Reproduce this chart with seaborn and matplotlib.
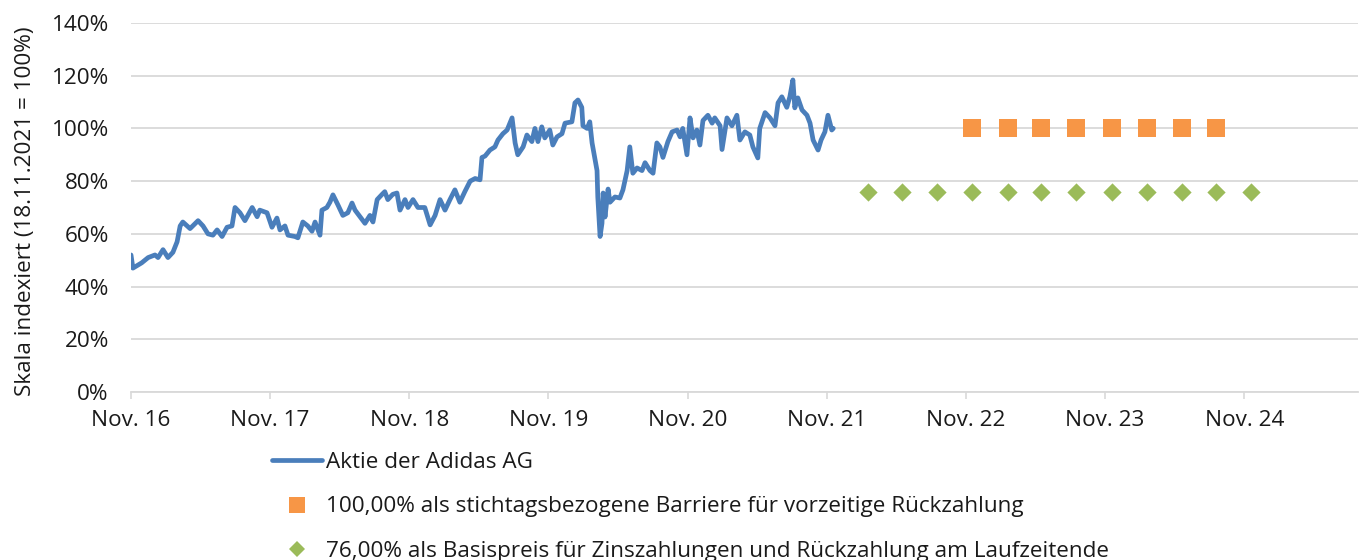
import matplotlib
matplotlib.use("Agg")
import matplotlib.pyplot as plt
from matplotlib.lines import Line2D
import seaborn as sns
import pandas as pd

# ---- data -------------------------------------------------------------
stock_dates = [
    "2016-11-01", "2016-11-06", "2016-11-29", "2016-12-16", "2017-01-03", "2017-01-11",
    "2017-01-24", "2017-02-06", "2017-02-19", "2017-03-02", "2017-03-10", "2017-03-17",
    "2017-04-05", "2017-04-26", "2017-05-09", "2017-05-22", "2017-06-04", "2017-06-15",
    "2017-06-28", "2017-07-11", "2017-07-24", "2017-08-01", "2017-08-14", "2017-08-27",
    "2017-09-15", "2017-09-28", "2017-10-05", "2017-10-24", "2017-11-06", "2017-11-19",
    "2017-11-27", "2017-12-10", "2017-12-18", "2018-01-05", "2018-01-13", "2018-01-26",
    "2018-02-08", "2018-02-19", "2018-02-27", "2018-03-12", "2018-03-17", "2018-03-30",
    "2018-04-07", "2018-04-15", "2018-04-28", "2018-05-11", "2018-05-24", "2018-06-04",
    "2018-06-12", "2018-06-25", "2018-07-08", "2018-07-21", "2018-07-29", "2018-08-09",
    "2018-08-22", "2018-08-29", "2018-09-06", "2018-09-19", "2018-09-30", "2018-10-08",
    "2018-10-21", "2018-10-29", "2018-11-11", "2018-11-24", "2018-12-12", "2018-12-26",
    "2019-01-08", "2019-01-21", "2019-02-03", "2019-02-16", "2019-03-01", "2019-03-14",
    "2019-03-27", "2019-04-10", "2019-04-23", "2019-05-06", "2019-05-11", "2019-05-19",
    "2019-06-01", "2019-06-14", "2019-06-22", "2019-07-05", "2019-07-16", "2019-07-29",
    "2019-08-06", "2019-08-13", "2019-08-27", "2019-09-06", "2019-09-19", "2019-09-27",
    "2019-10-05", "2019-10-15", "2019-10-23", "2019-11-05", "2019-11-13", "2019-11-24",
    "2019-12-07", "2019-12-15", "2020-01-02", "2020-01-10", "2020-01-18", "2020-01-28",
    "2020-01-31", "2020-02-11", "2020-02-18", "2020-02-24", "2020-03-03", "2020-03-08",
    "2020-03-10", "2020-03-16", "2020-03-21", "2020-03-24", "2020-03-29", "2020-04-06",
    "2020-04-11", "2020-04-24", "2020-05-07", "2020-05-15", "2020-05-26", "2020-06-02",
    "2020-06-10", "2020-06-21", "2020-07-04", "2020-07-12", "2020-07-25", "2020-08-02",
    "2020-08-12", "2020-08-20", "2020-08-28", "2020-09-10", "2020-09-21", "2020-10-04",
    "2020-10-12", "2020-10-19", "2020-10-30", "2020-11-07", "2020-11-15", "2020-11-25",
    "2020-12-03", "2020-12-11", "2020-12-24", "2021-01-04", "2021-01-11", "2021-01-25",
    "2021-01-30", "2021-02-12", "2021-02-25", "2021-03-10", "2021-03-18", "2021-03-31",
    "2021-04-13", "2021-04-21", "2021-05-04", "2021-05-09", "2021-05-23", "2021-06-05",
    "2021-06-18", "2021-06-26", "2021-07-06", "2021-07-19", "2021-07-27", "2021-08-04",
    "2021-08-09", "2021-08-17", "2021-08-28", "2021-09-10", "2021-09-18", "2021-09-26",
    "2021-10-09", "2021-10-17", "2021-10-27", "2021-11-04", "2021-11-14", "2021-11-18",
]
stock_values = [
    52, 47, 49, 51, 52, 51,
    54, 51, 53, 57, 63, 64.5,
    62, 65, 63, 60, 59.5, 61.5,
    59, 62.5, 63, 70, 68, 65,
    70, 66.5, 69, 68, 62.5, 66,
    61.5, 63, 59.5, 59, 58.5, 64.5,
    63, 61, 64.5, 59.5, 69, 70,
    72, 74.8, 71, 67, 68, 71.7,
    69, 66.5, 64, 67, 64.5, 73,
    75, 76, 73, 75, 75.5, 69,
    73, 70, 73, 70, 70, 63.4,
    67, 73, 69, 73, 76.7, 72,
    76, 80, 81, 80.5, 89, 89.5,
    91.8, 93, 95.6, 98, 99.4, 104,
    94.5, 90, 93, 97.5, 95, 100,
    95, 100.6, 96.4, 99.4, 93.7, 96.8,
    98, 102, 102.5, 109.7, 110.8, 108,
    101, 100, 102.5, 94.5, 88, 84,
    74, 59, 64, 75.5, 66.4, 77,
    72, 74, 73.6, 76.7, 84, 93,
    83, 85, 84, 87, 84, 83,
    94.5, 93, 89, 95, 98.7, 99.4,
    96.8, 100, 90, 104, 96.4, 99.4,
    93.7, 103, 105, 102, 104, 101,
    92, 104, 101, 105, 95.6, 98.7,
    97.5, 93, 88.8, 100, 106, 104,
    101, 109.7, 112, 108, 112, 118.4,
    107.8, 111.6, 107, 105, 102, 95.6,
    91.8, 95.6, 98.7, 105, 99.4, 100,
]

barrier_dates = ["2022-11-18", "2023-02-20", "2023-05-18", "2023-08-18",
                 "2023-11-20", "2024-02-19", "2024-05-21", "2024-08-19"]
barrier_values = [100] * 8

strike_dates = ["2022-02-18", "2022-05-18", "2022-08-18", "2022-11-18",
                "2023-02-20", "2023-05-18", "2023-08-18", "2023-11-20",
                "2024-02-19", "2024-05-21", "2024-08-19", "2024-11-18"]
strike_values = [76] * 12

tick_years = [2016, 2017, 2018, 2019, 2020, 2021, 2022, 2023, 2024]
y_ticks = [0, 20, 40, 60, 80, 100, 120, 140]

labels = ["Aktie der Adidas AG",
          "100,00% als stichtagsbezogene Barriere für vorzeitige Rückzahlung",
          "76,00% als Basispreis für Zinszahlungen und Rückzahlung am Laufzeitende"]

# ---- style ------------------------------------------------------------
sns.set_theme(style="white")
plt.rcParams["font.family"] = ["Open Sans", "DejaVu Sans"]

BLUE = "#4A7EBB"
ORANGE = "#F79646"
GREEN = "#9BBB59"
GRID = "#D9D9D9"
TXT = "#1a1a1a"
FS = 16.2

stock = pd.DataFrame({"date": pd.to_datetime(stock_dates), "value": stock_values})
barrier = pd.DataFrame({"date": pd.to_datetime(barrier_dates), "value": barrier_values})
strike = pd.DataFrame({"date": pd.to_datetime(strike_dates), "value": strike_values})

fig = plt.figure(figsize=(13.66, 5.6), dpi=100)
ax = fig.add_axes([131 / 1366, 1 - 392 / 560, (1358 - 131) / 1366, (392 - 23) / 560])

sns.lineplot(data=stock, x="date", y="value", ax=ax, color=BLUE, linewidth=3.4,
             solid_joinstyle="round", solid_capstyle="round", zorder=3)
sns.scatterplot(data=barrier, x="date", y="value", ax=ax, color=ORANGE, marker="s",
                s=12.5 ** 2, linewidth=0, zorder=4)
sns.scatterplot(data=strike, x="date", y="value", ax=ax, color=GREEN, marker="D",
                s=9.3 ** 2, linewidth=0, zorder=4)

ax.set_xlim(pd.Timestamp("2016-11-01"), pd.Timestamp("2025-08-26"))
ax.set_ylim(0, 140)
ax.set_yticks(y_ticks)
ax.set_yticklabels([f"{v}%" for v in y_ticks])
ax.set_xticks([pd.Timestamp(f"{y}-11-01") for y in tick_years])
ax.set_xticklabels([f"Nov. {str(y)[2:]}" for y in tick_years])

ax.grid(axis="y", color=GRID, linewidth=1.3)
ax.grid(axis="x", visible=False)
ax.set_axisbelow(True)
for s in ["top", "right", "left"]:
    ax.spines[s].set_visible(False)
ax.spines["bottom"].set_color(GRID)
ax.spines["bottom"].set_linewidth(1.3)
ax.spines["bottom"].set_zorder(1)

ax.tick_params(axis="x", which="major", bottom=True, length=5, width=1.2, color=GRID,
               labelsize=FS, labelcolor=TXT, pad=8)
ax.tick_params(axis="y", left=False, length=0, labelsize=FS, labelcolor=TXT, pad=16)

ax.set_xlabel("")
ax.set_ylabel("Skala indexiert (18.11.2021 = 100%)", fontsize=FS, color=TXT)
ax.yaxis.set_label_coords(-0.0775, 0.49)

handles = [
    Line2D([], [], color=BLUE, linewidth=3.4),
    Line2D([], [], color=ORANGE, marker="s", linestyle="none", markersize=11, markeredgewidth=0),
    Line2D([], [], color=GREEN, marker="D", linestyle="none", markersize=8.5, markeredgewidth=0),
]
fig.legend(handles, labels, loc="upper left", bbox_to_anchor=(272 / 1366, 1 - 452 / 560),
           frameon=False, fontsize=FS, labelcolor=TXT, handlelength=2.2,
           handletextpad=0.18, labelspacing=1.04, borderaxespad=0, borderpad=0)

fig.savefig("out.png", dpi=100)
